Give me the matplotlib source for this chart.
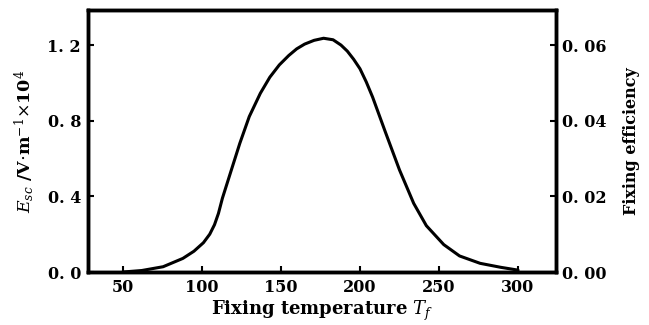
import matplotlib.pyplot as plt

# values
temp = [50, 62, 75.5, 88, 95, 101, 105, 108, 110.5, 113, 118, 124, 130,
        137, 143, 149, 155, 160, 165, 171, 177, 183, 188, 192, 196, 200,
        204, 208, 216, 225, 234, 242, 253, 263, 276, 289, 300]
esc = [0.0, 0.008, 0.028, 0.072, 0.11, 0.155, 0.2, 0.25, 0.31, 0.39,
       0.522, 0.68, 0.822, 0.945, 1.03, 1.095, 1.145, 1.18, 1.205, 1.225,
       1.236, 1.228, 1.2, 1.168, 1.125, 1.075, 1.005, 0.925, 0.742, 0.54,
       0.363, 0.245, 0.145, 0.085, 0.046, 0.025, 0.01]

x_ticks = [50, 100, 150, 200, 250, 300]
left_ticks = [0.0, 0.4, 0.8, 1.2]
left_labels = ["0. 0", "0. 4", "0. 8", "1. 2"]
right_ticks = [0.0, 0.02, 0.04, 0.06]
right_labels = ["0. 00", "0. 02", "0. 04", "0. 06"]

plt.rcParams["font.family"] = ["DejaVu Serif"]
plt.rcParams["mathtext.fontset"] = "dejavuserif"

fig = plt.figure(figsize=(6.49, 3.25), dpi=100)
ax = fig.add_axes([0.1356, 0.163, 0.7211, 0.806])
ax.plot(temp, esc, color="black", linewidth=2.2, solid_capstyle="round",
        solid_joinstyle="round")

ax.set_xlim(28, 324)
ax.set_ylim(0, 1.385)
ax.set_xticks(x_ticks)
ax.set_yticks(left_ticks)
ax.set_yticklabels(left_labels)
ax.tick_params(direction="in", length=4, width=1.5, labelsize=11.5, pad=5)
for lbl in ax.get_xticklabels() + ax.get_yticklabels():
    lbl.set_fontweight("bold")
for s in ax.spines.values():
    s.set_linewidth(2.5)

ax.set_xlabel(r"Fixing temperature $\mathit{T_f}$", fontsize=13,
              fontweight="bold", labelpad=2)
ax.set_ylabel(r"$E_{sc}$ /V$\cdot$m$^{-1}$$\times$10$^4$", fontsize=12.5,
              fontweight="bold", labelpad=8)

ax2 = ax.twinx()
ax2.set_ylim(0, 1.385 * 0.05)
ax2.set_yticks(right_ticks)
ax2.set_yticklabels(right_labels)
ax2.tick_params(direction="in", length=4, width=1.5, labelsize=11.5, pad=4)
for lbl in ax2.get_yticklabels():
    lbl.set_fontweight("bold")
for s in ax2.spines.values():
    s.set_linewidth(2.5)
ax2.set_ylabel("Fixing efficiency", fontsize=11.5, fontweight="bold", labelpad=12)

fig.savefig("out.png", dpi=100)
